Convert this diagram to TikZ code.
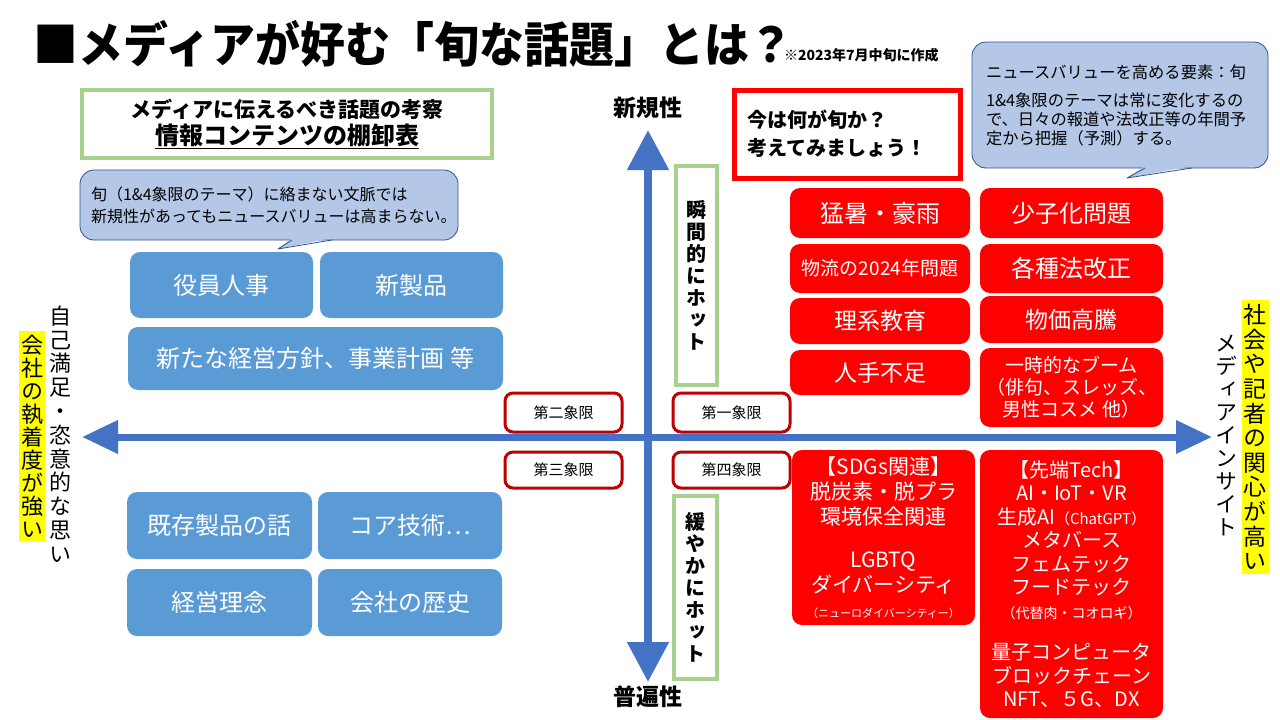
\documentclass[tikz,border=0pt]{standalone}
\usepackage{fontspec}
\setmainfont{Noto Sans CJK JP}
\newfontfamily\jpv{Noto Sans CJK JP}[RawFeature=+vert]
\usetikzlibrary{arrows.meta}
\definecolor{axisblue}{HTML}{4472C4}
\definecolor{bluefill}{HTML}{5B9BD5}
\definecolor{calfill}{HTML}{B4C7E7}
\definecolor{calborder}{HTML}{2F528F}
\definecolor{redfill}{HTML}{FF0000}
\definecolor{quadred}{HTML}{C00000}
\definecolor{greenline}{HTML}{A9D18E}
\definecolor{hiyellow}{HTML}{FFFF00}
\newcommand\myfs[2]{\fontsize{#1}{#2}\selectfont}
\begin{document}
\begin{tikzpicture}[x=1pt,y=-1pt,
  every node/.style={inner sep=0pt, outer sep=0pt},
  bluebox/.style={fill=bluefill, rounded corners=10pt, text=white, font=\myfs{24}{28}},
  redbox/.style={fill=redfill, rounded corners=10pt, text=white, align=center},
  quadbox/.style={draw=quadred, fill=white, line width=3pt, rounded corners=8pt, font=\myfs{15}{18}},
  greenbox/.style={draw=greenline, line width=4pt, fill=white},
  callout/.style={draw=calborder, line width=0.8pt, fill=calfill, rounded corners=14pt},
  axisline/.style={draw=axisblue, line width=7pt},
  vlabel/.style={align=center, font=\jpv\bfseries\myfs{20}{22}},
]
\useasboundingbox (0,0) rectangle (1280,720);
\fill[white] (0,0) rectangle (1280,720);

% axes
\coordinate (L) at (82,437);
\coordinate (R) at (1212,437);
\coordinate (T) at (648,130);
\coordinate (B) at (648,682);
\draw[axisline, {Triangle[length=36pt,width=32pt]}-{Triangle[length=36pt,width=32pt]}] (L) -- (R);
\draw[axisline, line width=8pt, {Triangle[length=40pt,width=40pt]}-{Triangle[length=40pt,width=40pt]}] (T) -- (B);

% title
\node[anchor=west, font=\bfseries\myfs{48}{52}] (title) at (34,44) {\scalebox{0.935}[1]{■メディアが好む「旬な話題」とは？}};
\node[anchor=base west, font=\bfseries\myfs{14}{16}] (note) at (784,60) {※2023年7月中旬に作成};

% green title box
\node[greenbox, minimum width=410pt, minimum height=68pt, align=center, font=\bfseries\myfs{21}{27}] (gbox) at (287,124)
  {メディアに伝えるべき話題の考察\\{\myfs{24}{27}\underline{情報コンテンツの棚卸表}}};

% left callout
\node[callout, minimum width=378pt, minimum height=70pt, text width=356pt, inner xsep=11pt, align=left, font=\myfs{16}{22}] (lcall) at (269,205)
  {旬（1\&4象限のテーマ）に絡まない文脈では\\新規性があってもニュースバリューは高まらない。};
\coordinate (ltip) at (278,249);
\coordinate (lb1) at (292,240);
\coordinate (lb2) at (332,240);
\fill[calfill] ([yshift=2pt]lb1) -- (ltip) -- ([yshift=2pt]lb2) -- cycle;
\draw[calborder, line width=0.8pt, line join=round] (lb1) -- (ltip) -- (lb2);

% right callout
\node[callout, minimum width=296pt, minimum height=126pt, text width=268pt, inner xsep=14pt, align=left, font=\myfs{16.3}{19}] (rcall) at (1120,105)
  {ニュースバリューを高める要素：旬\\[9pt]1\&4象限のテーマは常に変化するの\\で、日々の報道や法改正等の年間予\\定から把握（予測）する。};
\coordinate (rtip) at (1127,178);
\coordinate (rb1) at (1145,168);
\coordinate (rb2) at (1192,168);
\fill[calfill] ([yshift=2pt]rb1) -- (rtip) -- ([yshift=2pt]rb2) -- cycle;
\draw[calborder, line width=0.8pt, line join=round] (rb1) -- (rtip) -- (rb2);

% question box
\node[draw=redfill, line width=5pt, fill=white, minimum width=226pt, minimum height=88pt, text width=200pt, align=left, font=\bfseries\myfs{20}{28}] (q) at (847,134)
  {今は何が旬か？\\考えてみましょう！};

% blue boxes
\node[bluebox, minimum width=183pt, minimum height=66pt] (yakuin) at (221.5,285) {役員人事};
\node[bluebox, minimum width=183pt, minimum height=66pt] (shinsei) at (411.5,285) {新製品};
\node[bluebox, minimum width=375pt, minimum height=63pt] (houshin) at (315.5,358.5) {新たな経営方針、事業計画 等};
\node[bluebox, minimum width=185pt, minimum height=67pt] (kizon) at (219.5,525.5) {既存製品の話};
\node[bluebox, minimum width=184pt, minimum height=67pt] (core) at (410,525.5) {コア技術…};
\node[bluebox, minimum width=185pt, minimum height=67pt] (rinen) at (219.5,602.5) {経営理念};
\node[bluebox, minimum width=184pt, minimum height=67pt] (rekishi) at (410,602.5) {会社の歴史};

% axis labels
\node[font=\bfseries\myfs{23}{26}] (novel) at (648,108) {新規性};
\node[font=\bfseries\myfs{23}{26}] (univ) at (648,697) {普遍性};

% green vertical boxes
\node[greenbox, minimum width=41pt, minimum height=219pt, vlabel] (hot1) at (696.5,275.5) {瞬\\間\\的\\に\\ホ\\ッ\\ト};
\node[greenbox, minimum width=43pt, minimum height=183pt, vlabel] (hot2) at (695.5,587.5) {緩\\や\\か\\に\\ホ\\ッ\\ト};

% quadrant boxes
\node[quadbox, minimum width=117pt, minimum height=39pt] (q2) at (563.5,412.5) {第二象限};
\node[quadbox, minimum width=117pt, minimum height=39pt] (q1) at (731.5,412.5) {第一象限};
\node[quadbox, minimum width=117pt, minimum height=36pt] (q3) at (563.5,470) {第三象限};
\node[quadbox, minimum width=117pt, minimum height=36pt] (q4) at (731.5,470) {第四象限};

% red boxes column 1
\node[redbox, minimum width=180pt, minimum height=50pt, font=\myfs{24}{28}] (mousho) at (880,213) {猛暑・豪雨};
\node[redbox, minimum width=180pt, minimum height=49pt, font=\myfs{19}{22}] (butsu) at (880,268.5) {物流の2024年問題};
\node[redbox, minimum width=180pt, minimum height=46pt, font=\myfs{23}{26}] (rikei) at (880,321) {理系教育};
\node[redbox, minimum width=180pt, minimum height=45pt, font=\myfs{23}{26}] (hitode) at (880,372.5) {人手不足};
% red boxes column 2
\node[redbox, minimum width=183pt, minimum height=50pt, font=\myfs{24}{28}] (shoushi) at (1071.5,213) {少子化問題};
\node[redbox, minimum width=183pt, minimum height=49pt, font=\myfs{24}{28}] (hou) at (1071.5,268.5) {各種法改正};
\node[redbox, minimum width=183pt, minimum height=47pt, font=\myfs{23}{26}] (bukka) at (1071.5,319.5) {物価高騰};
\node[redbox, minimum width=183pt, minimum height=79pt, font=\myfs{19}{22}] (boom) at (1071.5,387.5) {一時的なブーム\\（俳句、スレッズ、\\男性コスメ 他）};
% bottom red boxes
\node[redbox, minimum width=183pt, minimum height=175pt, font=\myfs{21}{25}] (sdgs) at (883.5,537.5)
  {【SDGs関連】\\脱炭素・脱プラ\\環境保全関連\\[18pt]LGBTQ\\ダイバーシティ\\{\myfs{11}{14}（ニューロダイバーシティー）}};
\node[redbox, minimum width=183pt, minimum height=268pt, font=\myfs{20}{23.5}] (tech) at (1071.5,584)
  {【先端Tech】\\AI・IoT・VR\\生成AI{\myfs{15}{18}（ChatGPT）}\\メタバース\\フェムテック\\フードテック\\{\myfs{14}{17}（代替肉・コオロギ）}\\[18pt]量子コンピュータ\\ブロックチェーン\\NFT、５G、DX};

% side labels left
\node[fill=hiyellow, inner xsep=2pt, inner ysep=4pt, align=center, font=\jpv\myfs{22}{23}] (lstrong) at (32,436) {会\\社\\の\\執\\着\\度\\が\\強\\い};
\node[align=center, font=\jpv\myfs{22}{23.8}] (lself) at (60,434) {自\\己\\満\\足\\・\\恣\\意\\的\\な\\思\\い};
% side labels right
\node[fill=hiyellow, inner xsep=2pt, inner ysep=4pt, align=center, font=\jpv\myfs{23}{24.6}] (rhigh) at (1255,437) {社\\会\\や\\記\\者\\の\\関\\心\\が\\高\\い};
\node[align=center, font=\jpv\myfs{22}{23}] (rinsight) at (1226,435) {メ\\デ\\ィ\\ア\\イ\\ン\\サ\\イ\\ト};
\end{tikzpicture}
\end{document}
